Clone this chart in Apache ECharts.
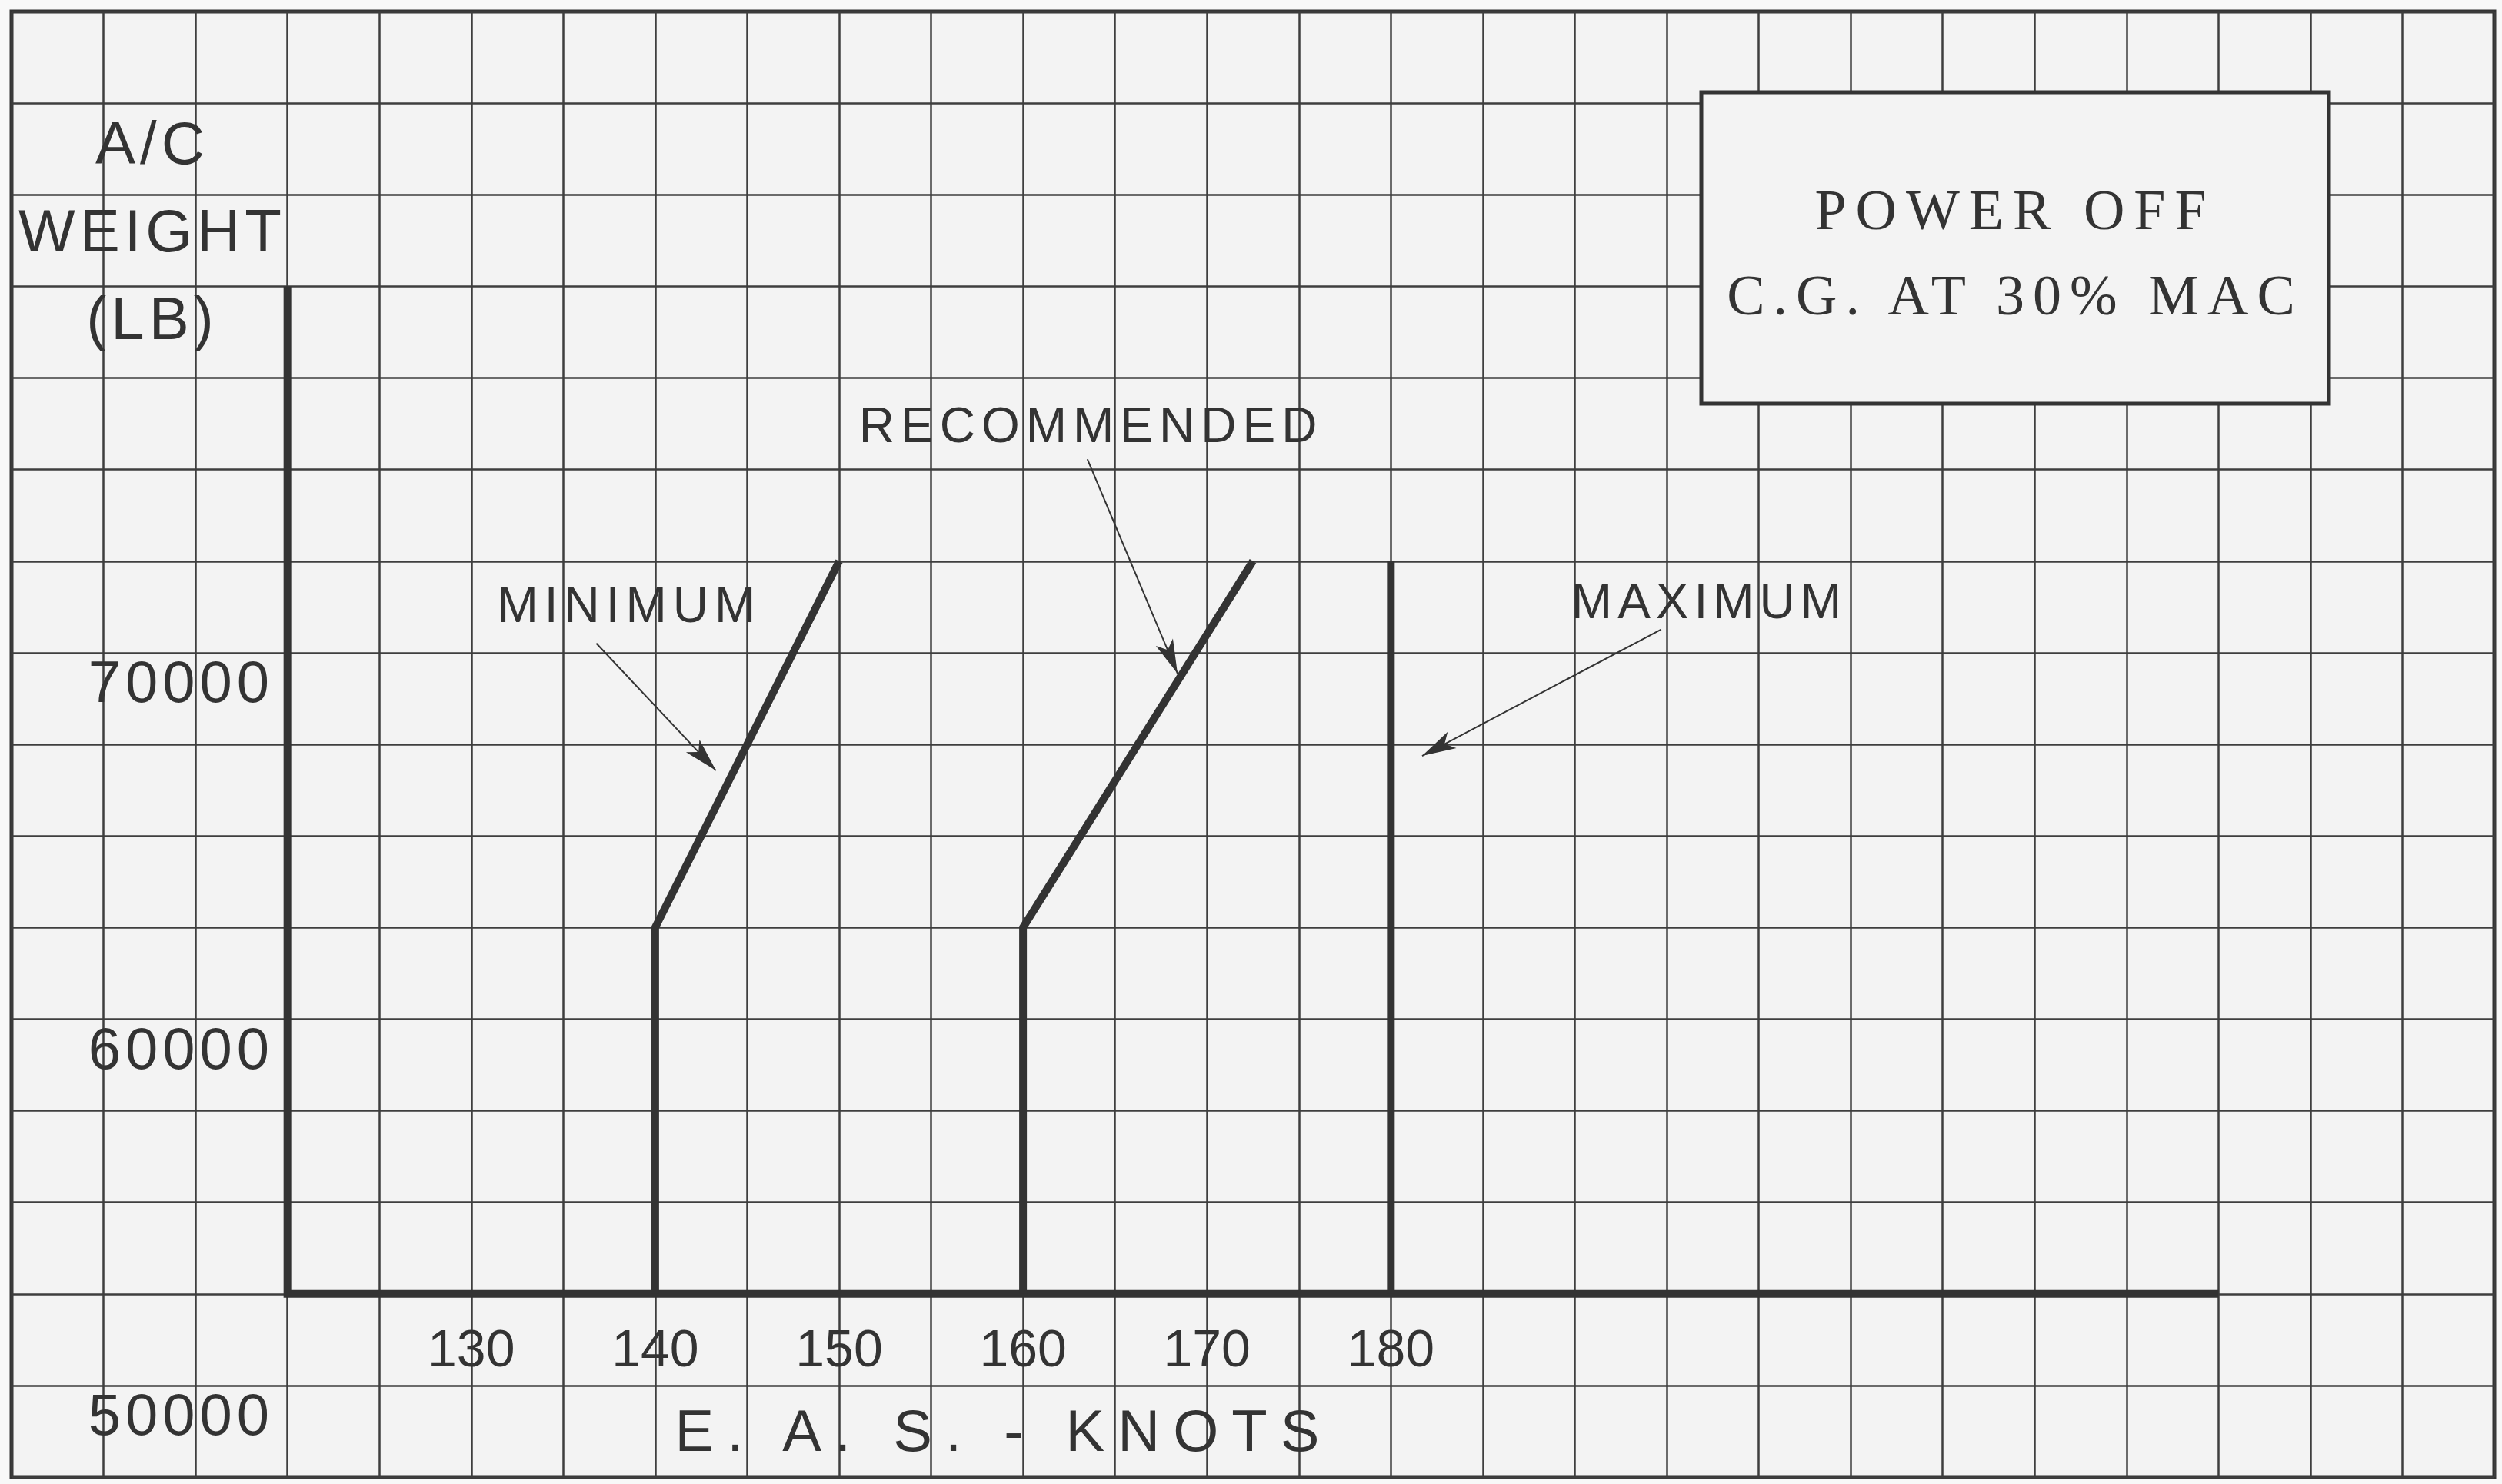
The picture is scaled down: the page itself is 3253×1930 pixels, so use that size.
<!DOCTYPE html>
<html>
<head>
<meta charset="utf-8">
<script src="https://cdn.jsdelivr.net/npm/echarts@6/dist/echarts.min.js"></script>
<style>
html,body{margin:0;padding:0;background:#f8f8f8;}
#chart{width:3253px;height:1930px;}
</style>
</head>
<body>
<div id="chart"></div>
<script>
// ---- data ----
const knotTicks = [130, 140, 150, 160, 170, 180];
const weightTicks = [50000, 60000, 70000];

const frameKnots = [120, 120, 225];
const frameWeights = [80000, 52500, 52500];

const minKnots = [140, 140, 150];
const minWeights = [52500, 62500, 72500];
const recKnots = [160, 160, 172.5];
const recWeights = [52500, 62500, 72500];
const maxKnots = [180, 180];
const maxWeights = [52500, 72500];

const calloutNames = ['MINIMUM', 'RECOMMENDED', 'MAXIMUM'];
const calloutKnots = [138.6, 163.7, 197.3];
const calloutWeights = [71290, 76210, 71410];
const arrowStartKnots = [136.8, 163.5, 194.7];
const arrowStartWeights = [70255, 75282, 70634];
const arrowEndKnots = [143.3, 168.4, 181.7];
const arrowEndWeights = [66785, 69435, 67185];

const boxLines = ['POWER OFF', 'C.G. AT 30% MAC'];
const yTitleLines = ['A/C', 'WEIGHT', '(LB)'];
const xTitle = 'E. A. S. - KNOTS';

// ---- styles ----
const INK = '#333333';
const GRIDINK = '#3e3e3e';
const PAPER = '#f3f3f3';
const SANS = '"Liberation Sans", Arial, Helvetica, sans-serif';
const SERIF = '"Liberation Serif", "Times New Roman", serif';

function zip(a, b) { return a.map((v, i) => [v, b[i]]); }

const curves = [
  {name: 'frame', x: frameKnots, y: frameWeights},
  {name: 'MINIMUM', x: minKnots, y: minWeights},
  {name: 'RECOMMENDED', x: recKnots, y: recWeights},
  {name: 'MAXIMUM', x: maxKnots, y: maxWeights}
];

const series = curves.map((c) => {
  const s = {
    name: c.name,
    type: 'line',
    data: zip(c.x, c.y),
    symbol: 'none',
    silent: true,
    lineStyle: {color: INK, width: 10, cap: 'butt', join: 'miter'},
    z: 5,
    animation: false
  };
  const i = calloutNames.indexOf(c.name);
  if (i >= 0) {
    s.markLine = {
      silent: true,
      animation: false,
      symbol: ['none', 'arrow'],
      symbolSize: [18, 44],
      lineStyle: {color: INK, width: 2, type: 'solid'},
      label: {show: false},
      emphasis: {disabled: true},
      data: [[{coord: [arrowStartKnots[i], arrowStartWeights[i]]},
              {coord: [arrowEndKnots[i], arrowEndWeights[i]]}]]
    };
    s.markPoint = {
      silent: true,
      animation: false,
      symbol: 'rect',
      symbolSize: 1,
      itemStyle: {color: 'rgba(0,0,0,0)'},
      label: {show: true, position: 'inside', formatter: calloutNames[i],
              color: INK, fontSize: 64, fontFamily: SANS},
      data: [{coord: [calloutKnots[i], calloutWeights[i]], value: calloutNames[i]}]
    };
  }
  return s;
});

const graphics = [];
yTitleLines.forEach((t, i) => {
  graphics.push({type: 'text', x: 198, y: 186 + i * 114, z: 50,
    style: {text: t, fill: INK, fontSize: 78, fontFamily: SANS, align: 'center', verticalAlign: 'middle'}});
});
graphics.push({type: 'text', x: 1305, y: 1860, z: 50,
  style: {text: xTitle, fill: INK, fontSize: 76, fontFamily: SANS, align: 'center', verticalAlign: 'middle'}});
graphics.push({type: 'rect', z: 60, shape: {x: 2212, y: 120, width: 816, height: 405},
  style: {fill: PAPER, stroke: INK, lineWidth: 5}});
boxLines.forEach((t, i) => {
  graphics.push({type: 'text', x: 2620, y: 273 + i * 111, z: 61,
    style: {text: t, fill: INK, fontSize: 74, fontFamily: SERIF, align: 'center', verticalAlign: 'middle'}});
});

const chart = echarts.init(document.getElementById('chart'), null, {renderer: 'svg', width: 3253, height: 1930});
chart.setOption({
  animation: false,
  backgroundColor: '#f8f8f8',
  grid: {left: 15, top: 15, width: 3228, height: 1906, show: true,
         backgroundColor: PAPER, borderColor: INK, borderWidth: 5,
         containLabel: false, outerBoundsMode: 'none'},
  xAxis: {
    type: 'value', min: 105, max: 240, interval: 5,
    axisLine: {show: false}, axisTick: {show: false},
    splitLine: {show: true, lineStyle: {color: GRIDINK, width: 2.5}},
    axisLabel: {
      formatter: (v) => knotTicks.includes(v) ? String(v) : '',
      margin: -168, verticalAlign: 'middle', fontSize: 68, color: INK, fontFamily: SANS,
      showMinLabel: true, showMaxLabel: true
    }
  },
  yAxis: {
    type: 'value', min: 47500, max: 87500, interval: 2500,
    axisLine: {show: false}, axisTick: {show: false},
    splitLine: {show: true, lineStyle: {color: GRIDINK, width: 2.5}},
    axisLabel: {
      formatter: (v) => weightTicks.includes(v) ? String(v) : '',
      margin: -341, align: 'right', verticalAlign: 'top',
      fontSize: 76, color: INK, fontFamily: SANS,
      showMinLabel: true, showMaxLabel: true
    }
  },
  series: series,
  graphic: graphics
});

const spacing = {
  'MINIMUM': 8, 'RECOMMENDED': 8, 'MAXIMUM': 7,
  'POWER OFF': 12, 'C.G. AT 30% MAC': 11,
  'A/C': 6, 'WEIGHT': 6, '(LB)': 6,
  'E. A. S. - KNOTS': 17,
  '50000': 6, '60000': 6, '70000': 6
};
function applySpacing() {
  document.querySelectorAll('#chart svg text').forEach((t) => {
    const s = spacing[t.textContent];
    if (s) t.style.letterSpacing = s + 'px';
  });
}
applySpacing();
chart.on('finished', applySpacing);
</script>
</body>
</html>
